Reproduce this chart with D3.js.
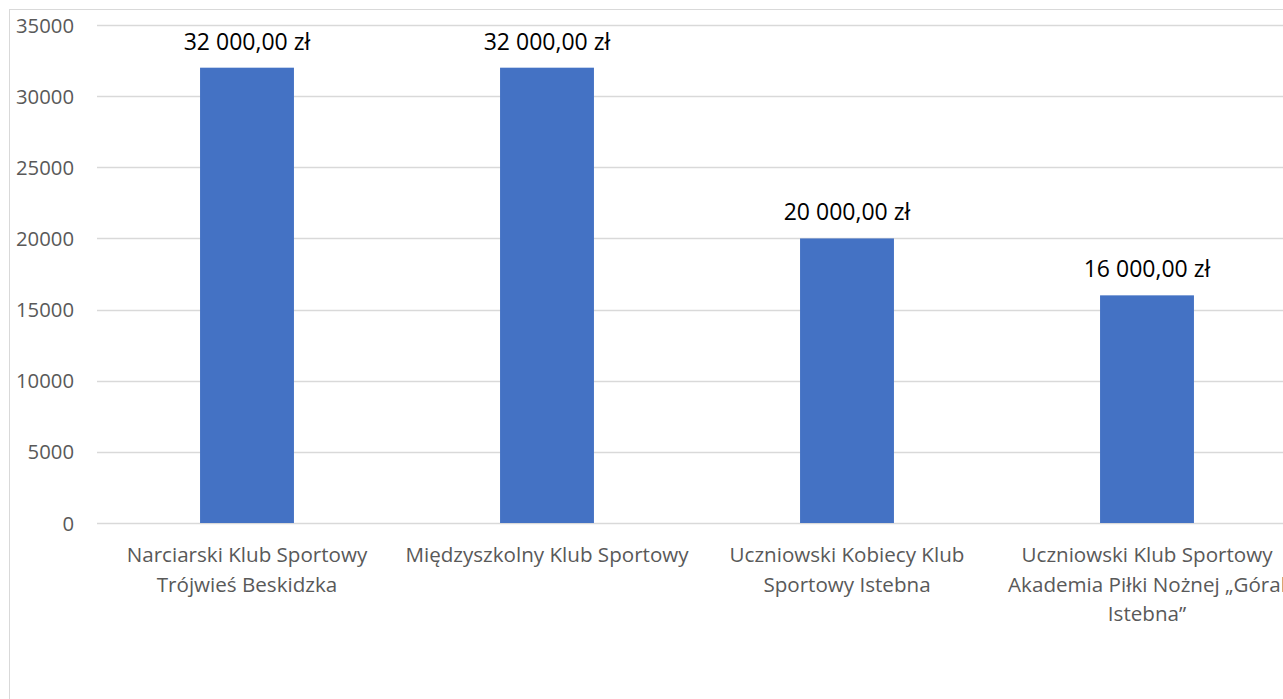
<!DOCTYPE html>
<html><head><meta charset="utf-8">
<script src="https://cdn.jsdelivr.net/npm/d3@7"></script>
<style>body{margin:0;background:#fff;}svg{display:block;}</style>
</head><body>
<script>
const categories = [
  ["Narciarski Klub Sportowy", "Trójwieś Beskidzka"],
  ["Międzyszkolny Klub Sportowy"],
  ["Uczniowski Kobiecy Klub", "Sportowy Istebna"],
  ["Uczniowski Klub Sportowy", "Akademia Piłki Nożnej „Góral", "Istebna”"]
];
const values = [32000, 32000, 20000, 16000];
const valueLabels = ["32 000,00 zł", "32 000,00 zł", "20 000,00 zł", "16 000,00 zł"];
const yTicks = [0, 5000, 10000, 15000, 20000, 25000, 30000, 35000];

const W = 1283, H = 699;
const font = "'Open Sans', 'Noto Sans', sans-serif";
const svg = d3.select("body").append("svg").attr("width", W).attr("height", H);
svg.append("rect").attr("width", W).attr("height", H).attr("fill", "#fff");
svg.append("rect").attr("x", 9.5).attr("y", 9.5).attr("width", 1300).attr("height", 800)
  .attr("fill", "none").attr("stroke", "#d9d9d9").attr("stroke-width", 1);

const x = d3.scaleBand().domain(d3.range(categories.length)).range([97, 1297]).paddingInner(0.687).paddingOuter(0.3435);
const y = d3.scaleLinear().domain([0, 35000]).range([523, 25]);

// gridlines
svg.append("g").selectAll("line").data(yTicks).join("line")
  .attr("x1", 97).attr("x2", 1297)
  .attr("y1", d => Math.round(y(d)) + 0.5).attr("y2", d => Math.round(y(d)) + 0.5)
  .attr("stroke", "#d9d9d9").attr("stroke-width", 1.3);

// y tick labels
const yAxis = d3.axisLeft(y).tickValues(yTicks).tickSize(0).tickPadding(0).tickFormat(d3.format("d"));
const ya = svg.append("g").attr("transform", "translate(74,0)").call(yAxis);
ya.select(".domain").remove();
ya.selectAll("text").attr("font-family", font).attr("font-size", 20.3).attr("fill", "#595959").attr("dy", "0.35em");

// bars
svg.append("g").selectAll("rect").data(values).join("rect")
  .attr("x", (d, i) => x(i)).attr("width", x.bandwidth())
  .attr("y", d => y(d)).attr("height", d => y(0) - y(d))
  .attr("fill", "#4472c4");

// value labels
svg.append("g").selectAll("text").data(values).join("text")
  .attr("x", (d, i) => x(i) + x.bandwidth() / 2)
  .attr("y", d => y(d) - 26).attr("dy", "0.35em")
  .attr("text-anchor", "middle").attr("font-family", font).attr("font-size", 23).attr("fill", "#000")
  .text((d, i) => valueLabels[i]);

// category labels
const cg = svg.append("g").selectAll("text").data(categories).join("text")
  .attr("text-anchor", "middle").attr("font-family", font).attr("font-size", 20.6).attr("fill", "#595959");
cg.each(function(lines, i) {
  const t = d3.select(this);
  lines.forEach((ln, j) => {
    t.append("tspan").attr("x", x(i) + x.bandwidth() / 2).attr("y", 555 + j * 29.5).attr("dy", "0.35em").text(ln);
  });
});
</script>
</body></html>
